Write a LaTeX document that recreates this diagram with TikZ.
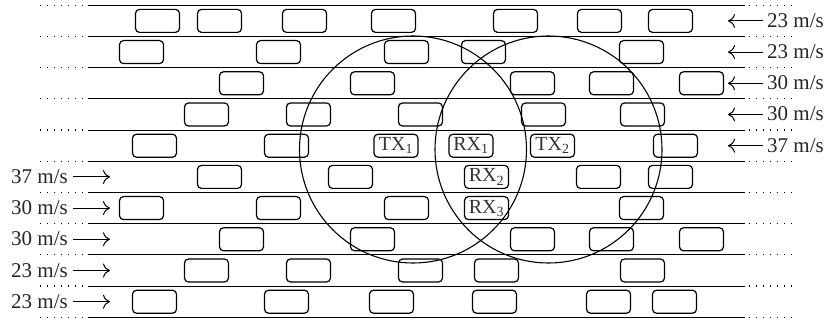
\documentclass[tikz,border=0pt]{standalone}
\usepackage{fontspec}
\setmainfont{Liberation Serif}
\usetikzlibrary{arrows.meta}
\begin{document}
\begin{tikzpicture}[x=1pt,y=-1pt,
  car/.style={draw, rounded corners=4pt, minimum width=44pt, minimum height=23pt, line width=1.2pt, inner sep=0pt},
  lbl/.style={car, font=\fontsize{20}{23}\selectfont, text=black!80},
  lane/.style={line width=1pt},
  dots/.style={line width=1.2pt, dash pattern=on 1.2pt off 5.8pt},
  speed/.style={font=\fontsize{21}{24}\selectfont, inner sep=0pt, text=black!85},
  arr/.style={-{To[length=7pt,width=14pt]}, line width=1pt},
  zone/.style={draw, circle, minimum size=227pt, inner sep=0pt, line width=1.1pt}
]
\useasboundingbox (0,0) rectangle (833,323);
% lane lines
\foreach \i in {0,...,10}{
  \pgfmathsetmacro\yy{5.3+31.2*\i}
  \coordinate (LL\i) at (40,\yy);
  \coordinate (L\i) at (88,\yy);
  \coordinate (R\i) at (745,\yy);
  \coordinate (RA\i) at (749,\yy);
  \coordinate (RR\i) at (797,\yy);
  \draw[lane] (L\i) -- (R\i);
  \draw[dots] (LL\i) -- (L\i);
  \draw[dots] (RA\i) -- (RR\i);
}
% cars
\foreach \x [count=\k] in {135,197,282,371,493,577,648} \node[car] (car0-\k) at (\x+22.5,20.9) {};
\foreach \x [count=\k] in {119,256,384,461,619} \node[car] (car1-\k) at (\x+22.5,52.1) {};
\foreach \x [count=\k] in {219,350,510,589,679} \node[car] (car2-\k) at (\x+22.5,83.3) {};
\foreach \x [count=\k] in {184,286,398,521,620} \node[car] (car3-\k) at (\x+22.5,114.5) {};
\foreach \x [count=\k] in {132,264,653} \node[car] (car4-\k) at (\x+22.5,145.7) {};
\foreach \x [count=\k] in {197,328,576,648} \node[car] (car5-\k) at (\x+22.5,176.9) {};
\foreach \x [count=\k] in {119,256,384,619} \node[car] (car6-\k) at (\x+22.5,208.1) {};
\foreach \x [count=\k] in {219,350,510,589,679} \node[car] (car7-\k) at (\x+22.5,239.3) {};
\foreach \x [count=\k] in {184,286,398,474,620} \node[car] (car8-\k) at (\x+22.5,270.5) {};
\foreach \x [count=\k] in {132,264,369,472,586,652} \node[car] (car9-\k) at (\x+22.5,301.7) {};
% labelled vehicles
\node[lbl] (tx1) at (396,145.7) {TX\textsubscript{1}};
\node[lbl] (rx1) at (471,145.7) {RX\textsubscript{1}};
\node[lbl] (tx2) at (552.5,145.7) {TX\textsubscript{2}};
\node[lbl] (rx2) at (486.5,176.9) {RX\textsubscript{2}};
\node[lbl] (rx3) at (486.5,208.1) {RX\textsubscript{3}};
% coverage circles
\node[zone] (zone1) at (413,149.5) {};
\node[zone] (zone2) at (548.5,149.5) {};
% speeds, right side (leftward traffic)
\foreach \s [count=\k from 0] in {23,23,30,30,37}{
  \pgfmathsetmacro\yy{20.9+31.2*\k}
  \node[speed, anchor=base west] (vR\k) at (767,\yy+6.5) {\s\ m/s};
  \coordinate (aR\k) at (763,\yy);
  \coordinate (tR\k) at (728,\yy);
  \draw[arr] (aR\k) -- (tR\k);
}
% speeds, left side (rightward traffic)
\foreach \s [count=\k from 5] in {37,30,30,23,23}{
  \pgfmathsetmacro\yy{20.9+31.2*\k}
  \node[speed, anchor=base east] (vL\k) at (68,\yy+6.5) {\s\ m/s};
  \coordinate (aL\k) at (73,\yy);
  \coordinate (tL\k) at (110,\yy);
  \draw[arr] (aL\k) -- (tL\k);
}
\end{tikzpicture}
\end{document}
